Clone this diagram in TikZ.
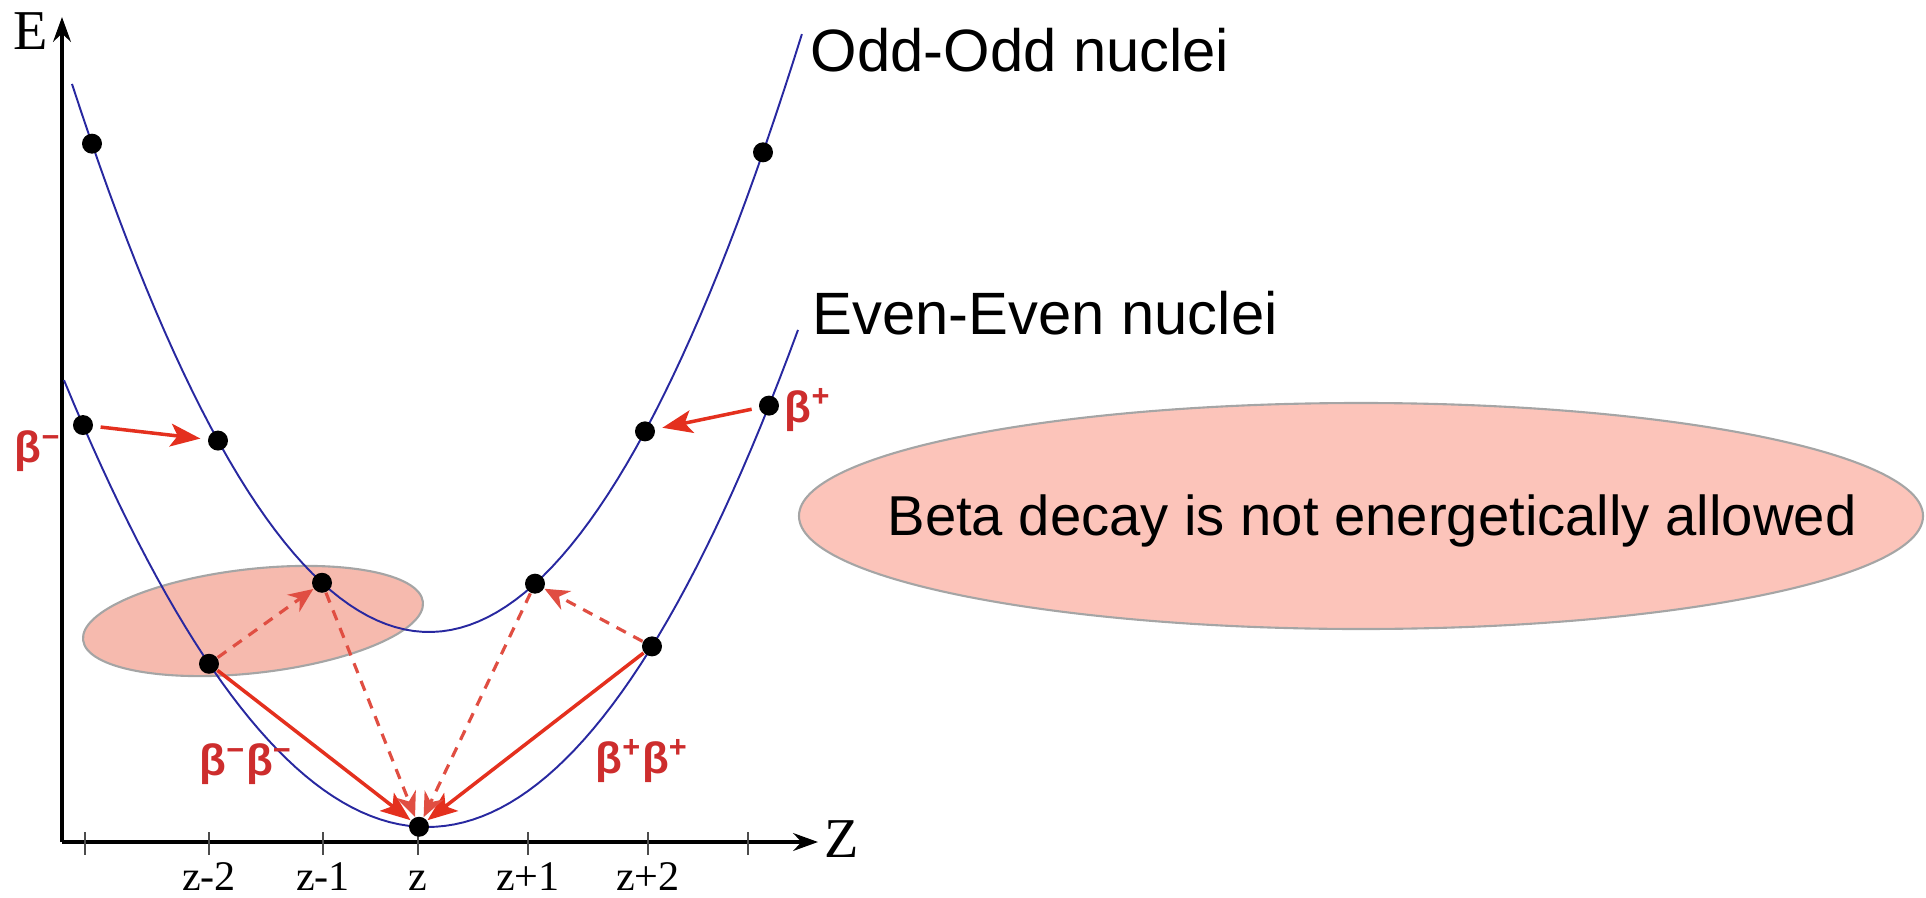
\documentclass[tikz,border=0pt]{standalone}
\usepackage{fontspec}
\setmainfont{Liberation Serif}
\newfontfamily\labelfont{Liberation Sans}
\usetikzlibrary{arrows.meta, positioning}
\definecolor{curveblue}{RGB}{40, 40, 160}
\definecolor{decayred}{RGB}{228, 48, 30}
\definecolor{dashred}{RGB}{224, 78, 66}
\definecolor{betared}{RGB}{205, 45, 45}
\definecolor{blobfill}{RGB}{252, 196, 186}
\definecolor{smallblob}{RGB}{246, 186, 174}
\definecolor{blobline}{RGB}{165, 165, 165}

% mass parabolas E(Z), Z in cm along the axis
\newcommand{\oddE}[1]{2.10+0.43*((#1)-3.67)*((#1)-3.67)}
\newcommand{\evenE}[1]{0.15+((#1)-3.65)*((#1)-3.65)*(0.35+0.003*((#1)-3.65))}

\begin{document}
\begin{tikzpicture}[
    nucleus/.style={circle, fill=black, minimum size=0.2cm, inner sep=0pt},
    curve/.style={curveblue, line width=0.55pt},
    axis/.style={line width=1.2pt, -{Stealth[length=7pt, width=5pt]}},
    tick/.style={line width=0.5pt, black!70},
    decay/.style={decayred, line width=1pt, -{Stealth[length=8.5pt, width=6.5pt, inset=2pt]}},
    vdecay/.style={dashred, line width=0.9pt, dash pattern=on 3pt off 2.4pt, -{Stealth[length=7pt, width=6pt]}},
    betalabel/.style={text=betared, font=\labelfont\bfseries\fontsize{12.5}{14}\selectfont, inner sep=0pt},
    caption/.style={font=\labelfont\fontsize{17}{20}\selectfont, inner sep=0pt, anchor=base west},
    axislabel/.style={font=\fontsize{16}{19}\selectfont, inner sep=0pt, anchor=base},
    ticklabel/.style={font=\fontsize{12}{14}\selectfont, inner sep=0pt, anchor=base}
]
\useasboundingbox (-0.62,-0.55) rectangle (18.64,8.42);

% single beta step that is forbidden
\draw[fill=smallblob, draw=blobline, line width=0.6pt, rotate around={6.4:(1.91,2.21)}]
    (1.91,2.21) ellipse [x radius=1.71cm, y radius=0.52cm];

% axes
\coordinate (origin) at (0,0);
\coordinate (etop) at (0,8.25);
\coordinate (zend) at (7.56,0);
\draw[axis] (origin) -- (etop);
\draw[axis] (origin) -- (zend);
\node[axislabel] (elab) at (-0.31,7.92) {E};
\node[axislabel] (zlab) at (7.80,-0.15) {Z};

\foreach \t in {0.23,1.47,2.61,3.56,4.66,5.86,6.86}
    \draw[tick] (\t,0.1) -- (\t,-0.13);
\foreach \t/\lab [count=\i] in {1.47/z-2, 2.61/z-1, 3.56/z, 4.66/z+1, 5.86/z+2}
    \node[ticklabel] (zt\i) at (\t,-0.48) {\lab};

% the two parabolas
\draw[curve, domain=0.10:7.40, samples=80] plot (\x, {\oddE{\x}});
\draw[curve, domain=0.02:7.36, samples=80] plot (\x, {\evenE{\x}});

\foreach \n/\x in {o1/0.30, o2/1.56, o3/2.60, o4/4.73, o5/5.83, o6/7.01}
    \node[nucleus] (\n) at (\x, {\oddE{\x}}) {};
\foreach \n/\x in {e1/0.21, e2/1.47, e3/3.57, e4/5.90, e5/7.07}
    \node[nucleus] (\n) at (\x, {\evenE{\x}}) {};

% decays
\draw[decay, shorten <=2pt, shorten >=2pt] (e1) -- (o2);
\draw[decay, shorten <=2pt, shorten >=2pt] (e5) -- (o5);
\draw[decay] (e2) -- (e3);
\draw[decay] (e4) -- (e3);
\draw[vdecay] (e2) -- (o3);
\draw[vdecay] (o3) -- (e3);
\draw[vdecay] (e4) -- (o4);
\draw[vdecay] (o4) -- (e3);

\node[betalabel] (bminus) at (-0.24,3.91) {β\textsuperscript{−}};
\node[betalabel] (bplus) at (7.46,4.32) {β\textsuperscript{+}};
\node[betalabel] (bbminus) at (1.84,0.78) {β\textsuperscript{−}β\textsuperscript{−}};
\node[betalabel] (bbplus) at (5.80,0.81) {β\textsuperscript{+}β\textsuperscript{+}};

\node[caption] (oddlab) at (7.48,7.70) {Odd-Odd nuclei};
\node[caption] (evenlab) at (7.50,5.07) {Even-Even nuclei};

% note
\coordinate (notec) at (12.99,3.26);
\draw[fill=blobfill, draw=blobline, line width=0.6pt] (notec) ellipse [x radius=5.62cm, y radius=1.13cm];
\node[font=\labelfont\fontsize{16}{19}\selectfont, inner sep=0pt, anchor=base] (verdict) at (13.10,3.07)
    {Beta decay is not energetically allowed};

\end{tikzpicture}
\end{document}
